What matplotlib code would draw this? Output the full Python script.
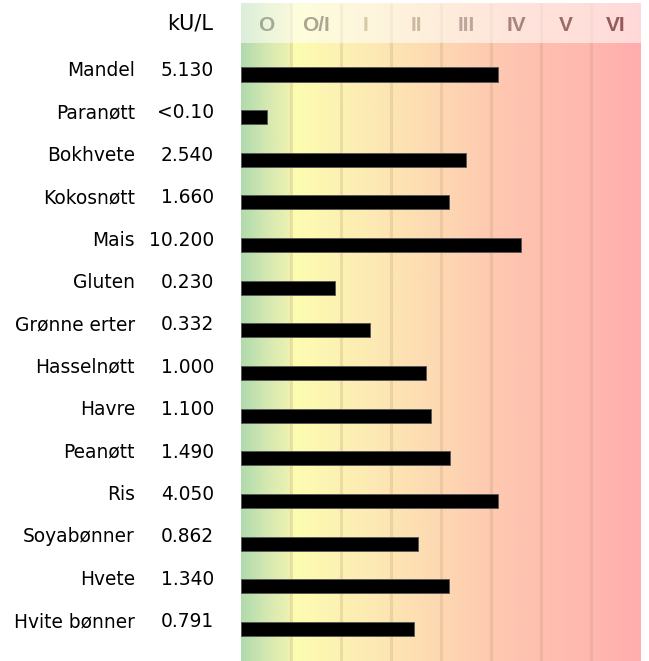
import numpy as np
import matplotlib
matplotlib.use("Agg")
import matplotlib.pyplot as plt
from matplotlib.colors import LinearSegmentedColormap
from matplotlib.patches import Rectangle
import matplotlib.transforms as mtransforms


# data
foods = ["Mandel", "Paranøtt", "Bokhvete", "Kokosnøtt", "Mais", "Gluten",
         "Grønne erter", "Hasselnøtt", "Havre", "Peanøtt", "Ris",
         "Soyabønner", "Hvete", "Hvite bønner"]
kul_text = ["5.130", "<0.10", "2.540", "1.660", "10.200", "0.230", "0.332",
            "1.000", "1.100", "1.490", "4.050", "0.862", "1.340", "0.791"]
# bar length in class units (0 = start of class O, 8 = end of class VI)
class_score = [5.13, 0.51, 4.49, 4.15, 5.59, 1.88, 2.57,
               3.69, 3.79, 4.18, 5.13, 3.53, 4.15, 3.45]
classes = ["O", "O/I", "I", "II", "III", "IV", "V", "VI"]
class_colors = ["#a3aa98", "#aba693", "#d3c9a4", "#cdb9a2",
                "#bea49c", "#a8847f", "#9a6a66", "#935a5a"]

# background gradient stops (class position, colour)
grad_stops = [(0.0, "#b1daae"), (0.5, "#d4e8b0"), (0.97, "#eef2b0"),
              (1.03, "#fdfdb0"), (2.0, "#fcf1b3"), (3.0, "#fde5b3"),
              (4.0, "#fdd8b2"), (5.0, "#fecab0"), (6.0, "#ffbfb0"),
              (7.0, "#ffb8af"), (8.0, "#ffadad")]

W, H = 649, 661
row_px = 42.65      # bar spacing in pixels
label_px = 42.4     # label spacing in pixels
first_px = 74.5


def px_row(py):
    return (py - first_px) / row_px


fig = plt.figure(figsize=(W / 100, H / 100), dpi=100)
ax = fig.add_axes([241 / W, 0, 400 / W, 1])
ax.set_xlim(0, 8)
ax.set_ylim(px_row(H), px_row(0))
ax.axis("off")

cmap = LinearSegmentedColormap.from_list(
    "allergy", [(p / 8, c) for p, c in grad_stops])
grad = np.linspace(0, 1, 800)[None, :]
head_top, head_bot = px_row(3), px_row(43)
ax.imshow(grad, cmap=cmap, aspect="auto", extent=(0, 8, px_row(H), head_top),
          zorder=0, interpolation="bilinear")

# class boundaries
ax.vlines(np.arange(1, 8), px_row(H), head_top, color="#b08a60",
          alpha=0.2, lw=2.2, zorder=1)

# washed-out header band
ax.add_patch(Rectangle((0, head_top), 8, head_bot - head_top,
                       facecolor="white", alpha=0.55, lw=0, zorder=2))
for i, (c, col) in enumerate(zip(classes, class_colors)):
    ax.text(i + 0.5, px_row(30.5), c, ha="center", va="baseline",
            fontsize=15, fontweight="bold", family="Liberation Sans",
            color=col, zorder=3)

rows = np.arange(len(foods))
ax.barh(rows, class_score, height=0.33, left=0, color="black",
        edgecolor="#555555", linewidth=0.6, zorder=4)

# labels on the left
trans = mtransforms.blended_transform_factory(fig.transFigure, ax.transData)
for i, (name, val) in enumerate(zip(foods, kul_text)):
    y = px_row(76 + i * label_px)
    ax.text(135 / W, y, name, transform=trans,
            ha="right", va="baseline", fontsize=13.4, color="black")
    ax.text(214 / W, y, val, transform=trans,
            ha="right", va="baseline", fontsize=13.4, color="black")
ax.text(213 / W, px_row(29.3), "kU/L", transform=trans, ha="right",
        va="baseline", fontsize=15, color="black")

fig.savefig("out.png", dpi=100)
